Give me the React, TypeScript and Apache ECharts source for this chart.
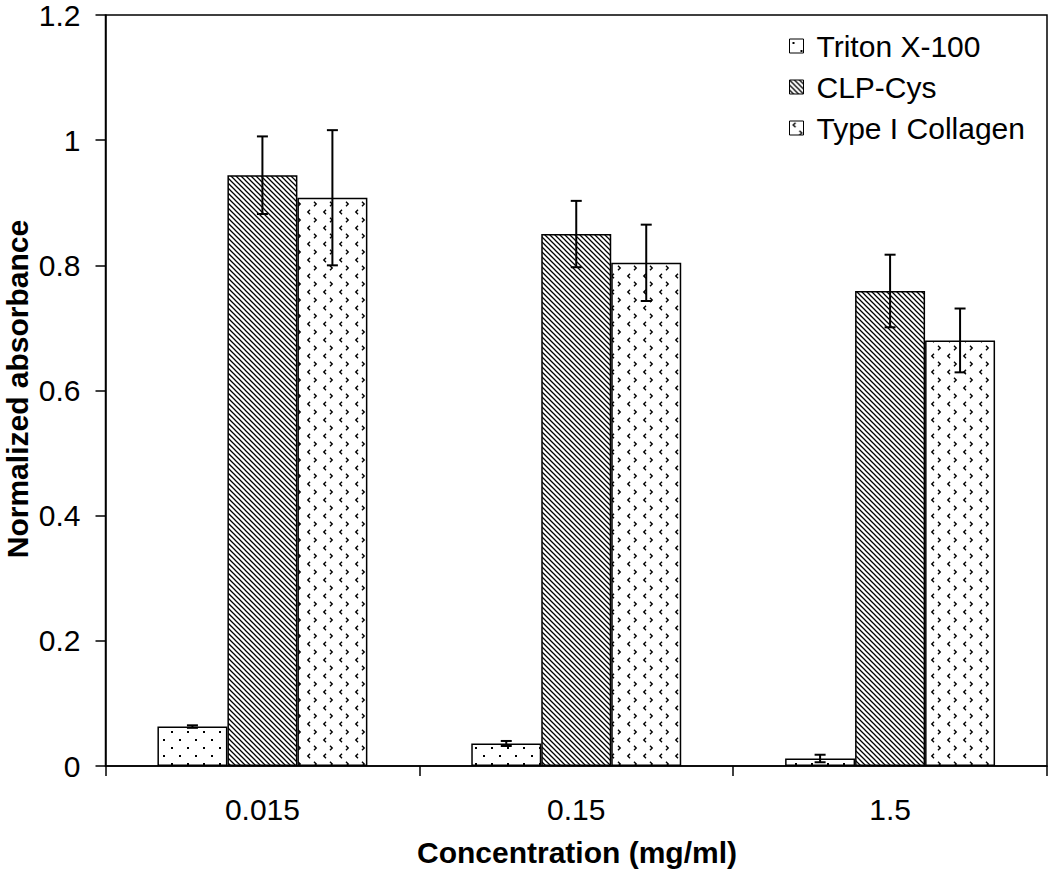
import React, { useEffect, useRef } from "react";
import * as echarts from "echarts";

const categories = ["0.015", "0.15", "1.5"];
const seriesNames = ["Triton X-100", "CLP-Cys", "Type I Collagen"];
const tritonValues = [0.063, 0.036, 0.012];
const tritonErrors = [0.002, 0.004, 0.006];
const clpValues = [0.944, 0.85, 0.759];
const clpErrors = [0.062, 0.053, 0.058];
const collagenValues = [0.908, 0.804, 0.68];
const collagenErrors = [0.108, 0.061, 0.051];
const yTicks = [0, 0.2, 0.4, 0.6, 0.8, 1, 1.2];

const FONT = '"Liberation Sans", Arial, sans-serif';
const BAR_FRAC = 0.223;

function makeTile(size: number, draw: (ctx: CanvasRenderingContext2D) => void) {
  const c = document.createElement("canvas");
  c.width = size;
  c.height = size;
  const ctx = c.getContext("2d")!;
  ctx.fillStyle = "#fff";
  ctx.fillRect(0, 0, size, size);
  ctx.fillStyle = "#000";
  ctx.strokeStyle = "#000";
  draw(ctx);
  return { image: c, repeat: "repeat", imageWidth: size, imageHeight: size } as any;
}

function dotsPattern() {
  return makeTile(16, (ctx) => {
    ctx.fillRect(3, 3, 2, 2);
    ctx.fillRect(11, 11, 2, 2);
  });
}

function hatchPattern() {
  return makeTile(5, (ctx) => {
    ctx.lineWidth = 1.25;
    ctx.beginPath();
    ctx.moveTo(-1, -1);
    ctx.lineTo(6, 6);
    ctx.moveTo(-1, 4);
    ctx.lineTo(1, 6);
    ctx.moveTo(4, -1);
    ctx.lineTo(6, 1);
    ctx.stroke();
  });
}

function chevronPattern() {
  return makeTile(16, (ctx) => {
    ctx.lineWidth = 1.4;
    ctx.beginPath();
    // "<" at (4,4)
    ctx.moveTo(6, 1.8);
    ctx.lineTo(3.8, 4);
    ctx.lineTo(6, 6.2);
    // ">" at (12,12)
    ctx.moveTo(10, 9.8);
    ctx.lineTo(12.2, 12);
    ctx.lineTo(10, 14.2);
    ctx.stroke();
  });
}

export default function App() {
  const ref = useRef<HTMLDivElement>(null);

  useEffect(() => {
    if (!ref.current) return;
    const chart = echarts.init(ref.current, undefined, { renderer: "svg" });

    const valueSets = [tritonValues, clpValues, collagenValues];
    const errorSets = [tritonErrors, clpErrors, collagenErrors];
    const patterns = [dotsPattern(), hatchPattern(), chevronPattern()];

    const barSeries = seriesNames.map((name, i) => ({
      name,
      type: "bar",
      data: valueSets[i],
      barWidth: BAR_FRAC * 100 + "%",
      barGap: "0%",
      itemStyle: { color: patterns[i], borderColor: "#000", borderWidth: 1.5 },
      emphasis: { disabled: true },
      z: 2,
    }));

    const errSeries = seriesNames.map((name, s) => ({
      name: name + " error",
      type: "custom",
      z: 5,
      encode: { x: 0, y: [1, 2] },
      data: valueSets[s].map((v, i) => [i, v - errorSets[s][i], v + errorSets[s][i]]),
      renderItem: (params: any, api: any) => {
        const x = api.value(0);
        const lo = api.coord([x, api.value(1)]);
        const hi = api.coord([x, api.value(2)]);
        const band = api.size([1, 0])[0];
        const bw = band * BAR_FRAC;
        const cx = lo[0] + (s - 1) * bw;
        const cap = 5.5;
        const st = { stroke: "#000", lineWidth: 2 };
        return {
          type: "group",
          children: [
            { type: "line", shape: { x1: cx, y1: hi[1], x2: cx, y2: lo[1] }, style: st },
            { type: "line", shape: { x1: cx - cap, y1: hi[1], x2: cx + cap, y2: hi[1] }, style: st },
            { type: "line", shape: { x1: cx - cap, y1: lo[1], x2: cx + cap, y2: lo[1] }, style: st },
          ],
        };
      },
    }));

    chart.setOption({
      animation: false,
      backgroundColor: "#fff",
      grid: {
        left: 105.5,
        right: 3,
        top: 11.5,
        bottom: 105,
        show: true,
        borderColor: "#000",
        borderWidth: 1.5,
        backgroundColor: "transparent",
      },
      legend: {
        data: seriesNames,
        orient: "vertical",
        left: 789,
        top: 31,
        padding: 0,
        itemWidth: 14,
        itemHeight: 14,
        itemGap: 11,
        icon: "rect",
        selectedMode: false,
        itemStyle: { borderColor: "#000", borderWidth: 1 },
        textStyle: { fontSize: 30, fontFamily: FONT, color: "#000", padding: [0, 0, 0, 8] },
      },
      xAxis: {
        type: "category",
        data: categories,
        axisLine: { lineStyle: { color: "#000", width: 1.5 } },
        axisTick: { show: true, length: 10, alignWithLabel: false, interval: 0, lineStyle: { color: "#000", width: 1.5 } },
        axisLabel: { fontSize: 30, fontFamily: FONT, color: "#000", margin: 28 },
        splitLine: { show: false },
      },
      yAxis: {
        type: "value",
        min: yTicks[0],
        max: yTicks[yTicks.length - 1],
        interval: 0.2,
        axisLine: { show: true, lineStyle: { color: "#000", width: 1.5 } },
        axisTick: { show: true, length: 10, lineStyle: { color: "#000", width: 1.5 } },
        axisLabel: { fontSize: 30, fontFamily: FONT, color: "#000", margin: 25 },
        splitLine: { show: false },
      },
      graphic: [
        {
          type: "text",
          x: 17,
          y: 389,
          rotation: Math.PI / 2,
          style: {
            text: "Normalized absorbance",
            font: "bold 30px " + FONT,
            fill: "#000",
            align: "center",
            verticalAlign: "middle",
          },
        },
        {
          type: "text",
          x: 577,
          y: 852,
          style: {
            text: "Concentration (mg/ml)",
            font: "bold 30px " + FONT,
            fill: "#000",
            align: "center",
            verticalAlign: "middle",
          },
        },
      ],
      series: [...barSeries, ...errSeries],
    });

    return () => chart.dispose();
  }, []);

  return (
    <div
      ref={ref}
      style={{ position: "absolute", left: 0, top: 0, width: 1050, height: 871, background: "#fff" }}
    />
  );
}
